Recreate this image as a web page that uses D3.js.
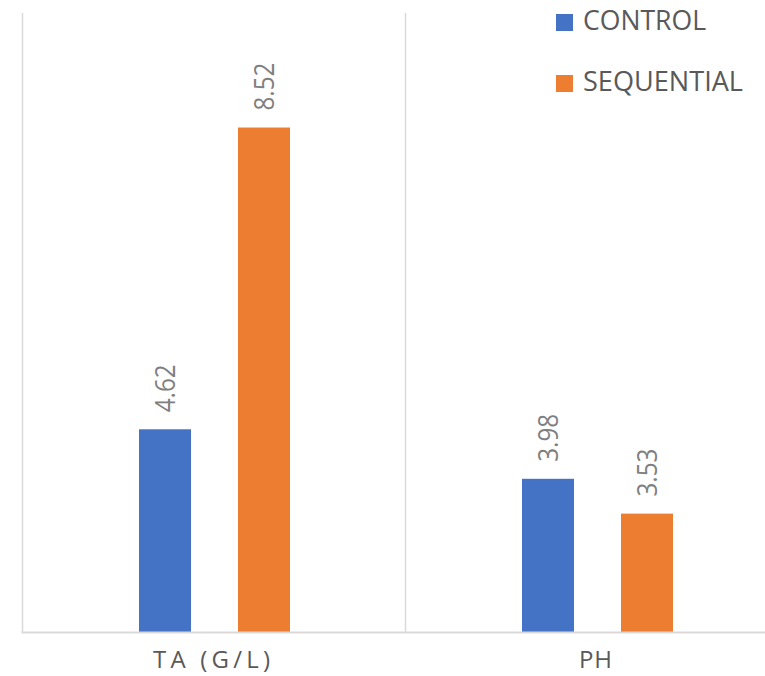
<!DOCTYPE html>
<html>
<head>
<meta charset="utf-8">
<script src="https://cdn.jsdelivr.net/npm/d3@7"></script>
<style>
  html, body { margin: 0; padding: 0; background: #ffffff; }
  svg { display: block; font-family: "Open Sans", "Noto Sans", sans-serif; }
</style>
</head>
<body>
<svg id="chart" width="765" height="676"></svg>
<script>
// Chart data
const categories = ["TA (G/L)", "PH"];
const seriesNames = ["CONTROL", "SEQUENTIAL"];
const controlValues = [4.62, 3.98];
const sequentialValues = [8.52, 3.53];
const valueLabels = [["4.62", "3.98"], ["8.52", "3.53"]];
const yDomain = [2, 10];

const colors = { CONTROL: "#4472C4", SEQUENTIAL: "#ED7D31" };
const seriesValues = { CONTROL: controlValues, SEQUENTIAL: sequentialValues };

const svg = d3.select("#chart");
const W = 765, H = 676;

// Plot frame
const plot = { left: 22.5, right: 788.5, top: 13, bottom: 632 };

const x0 = d3.scaleBand().domain(categories).range([plot.left, plot.right]).padding(0);
const groupStart = 116.5 / 383, groupEnd = 267.5 / 383;
const x1 = d3.scaleBand().domain(seriesNames)
  .range([x0.bandwidth() * groupStart, x0.bandwidth() * groupEnd])
  .paddingInner(0.4747).paddingOuter(0);
const y = d3.scaleLinear().domain(yDomain).range([plot.bottom, plot.top]);

// Vertical separators between categories
const bounds = categories.map(c => x0(c)).concat([x0(categories[categories.length - 1]) + x0.bandwidth()]);
svg.append("g").selectAll("line").data(bounds).join("line")
  .attr("x1", d => d).attr("x2", d => d)
  .attr("y1", plot.top).attr("y2", plot.bottom)
  .attr("stroke", "#d9d9d9").attr("stroke-width", 1.5);

// Bars
const rows = [];
categories.forEach((c, i) => {
  seriesNames.forEach((s, j) => {
    rows.push({ cat: c, series: s, value: seriesValues[s][i], label: valueLabels[j][i] });
  });
});

svg.append("g").selectAll("rect").data(rows).join("rect")
  .attr("x", d => x0(d.cat) + x1(d.series))
  .attr("y", d => y(d.value))
  .attr("width", x1.bandwidth())
  .attr("height", d => y(yDomain[0]) - y(d.value))
  .attr("fill", d => colors[d.series]);

// Category axis line
svg.append("line")
  .attr("x1", plot.left - 1).attr("x2", W)
  .attr("y1", plot.bottom + 0.5).attr("y2", plot.bottom + 0.5)
  .attr("stroke", "#d9d9d9").attr("stroke-width", 2);

// Value labels, rotated above each bar
svg.append("g").selectAll("text").data(rows).join("text")
  .attr("transform", d => `translate(${x0(d.cat) + x1(d.series) + x1.bandwidth() / 2},${y(d.value) - 17}) rotate(-90)`)
  .attr("dy", "0.36em")
  .attr("text-anchor", "start")
  .attr("font-size", 28)
  .attr("textLength", 48)
  .attr("lengthAdjust", "spacingAndGlyphs")
  .attr("fill", "#7f7f7f")
  .text(d => d.label);

// Category labels
const catWidths = { "TA (G/L)": 117, "PH": 33 };
svg.append("g").selectAll("text").data(categories).join("text")
  .attr("x", d => x0(d) + x0.bandwidth() / 2 - (d === "PH" ? 1.5 : 2.5))
  .attr("y", 668)
  .attr("text-anchor", "middle")
  .attr("font-size", 24)
  .attr("textLength", d => catWidths[d])
  .attr("lengthAdjust", "spacing")
  .attr("fill", "#595959")
  .text(d => d);

// Legend
const legendY = { CONTROL: 30, SEQUENTIAL: 91 };
const legendW = { CONTROL: 123, SEQUENTIAL: 160 };
const legend = svg.append("g");
seriesNames.forEach(s => {
  legend.append("rect")
    .attr("x", 556).attr("y", legendY[s] - 16)
    .attr("width", 17).attr("height", 17)
    .attr("fill", colors[s]);
  legend.append("text")
    .attr("x", 583).attr("y", legendY[s])
    .attr("font-size", 27)
    .attr("textLength", legendW[s])
    .attr("lengthAdjust", "spacingAndGlyphs")
    .attr("fill", "#595959")
    .text(s);
});
</script>
</body>
</html>
